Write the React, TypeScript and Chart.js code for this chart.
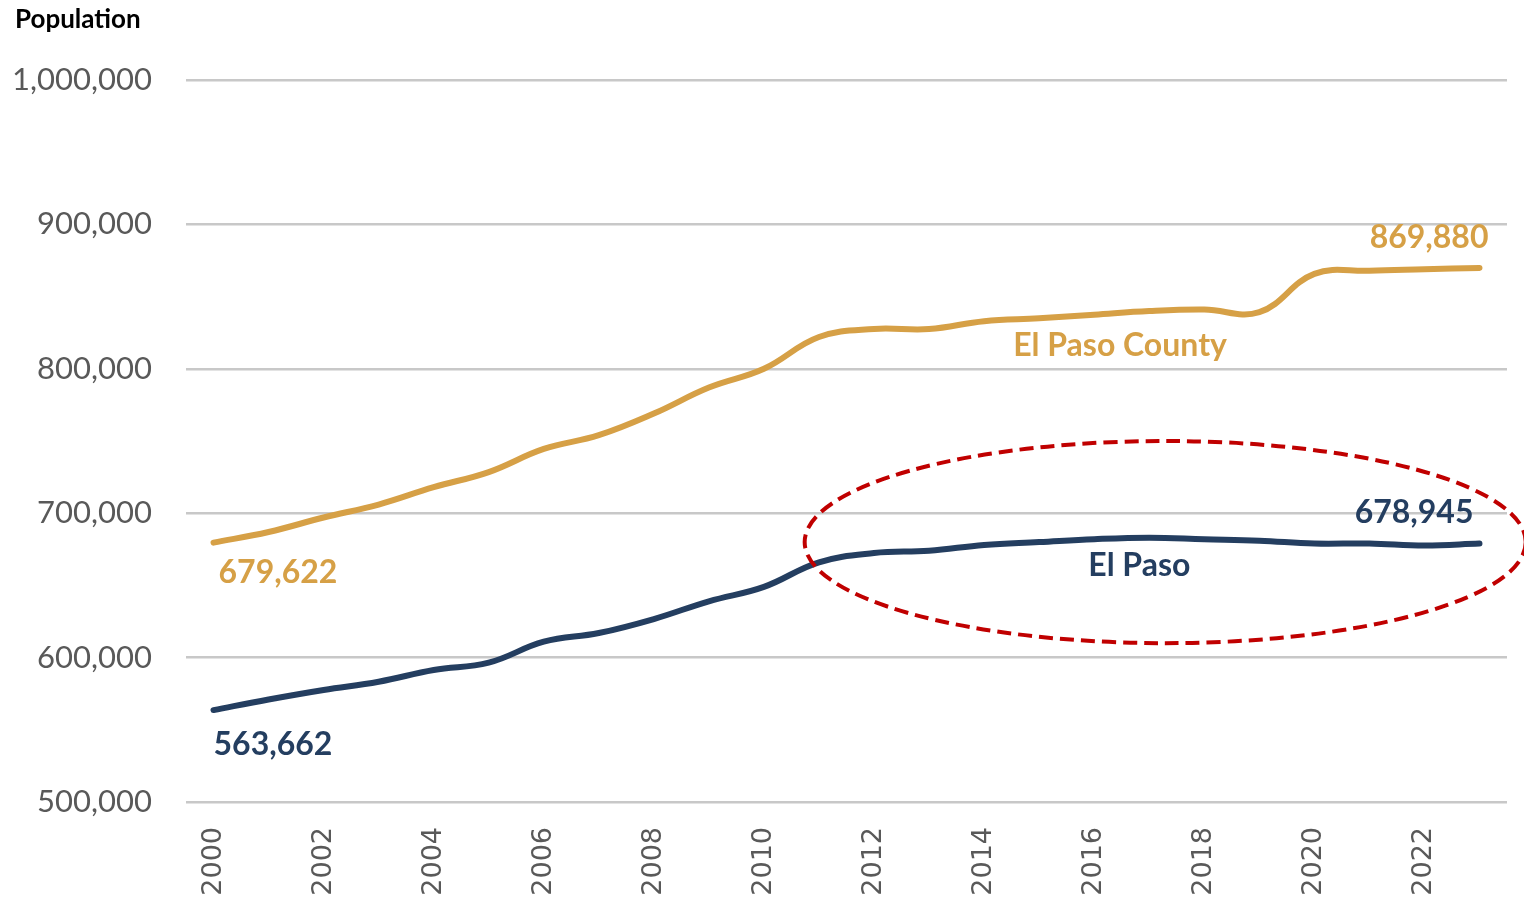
import React, { useEffect, useRef } from "react";
import { Chart, registerables } from "chart.js";

Chart.register(...registerables);

const years: string[] = [
  "2000", "2001", "2002", "2003", "2004", "2005", "2006", "2007", "2008", "2009", "2010", "2011",
  "2012", "2013", "2014", "2015", "2016", "2017", "2018", "2019", "2020", "2021", "2022", "2023",
];

const countyValues: number[] = [
  679622, 687000, 697000, 706000, 718000, 728500, 744500, 754000, 769000, 787000, 800000, 822000,
  827600, 827500, 833000, 835000, 837500, 840000, 841000, 839200, 865700, 867900, 868900, 869880,
];

const cityValues: number[] = [
  563662, 571000, 577600, 583300, 591400, 596500, 611000, 617000, 626700, 639000, 649000, 666000,
  672400, 674000, 678000, 680000, 682000, 683000, 682000, 681000, 679000, 679000, 677600, 678945,
];

const yTicks: number[] = [500000, 600000, 700000, 800000, 900000, 1000000];

const seriesNames: string[] = ["El Paso County", "El Paso"];
const axisTitle = "Population";

const GOLD = "#D6A046";
const NAVY = "#243E60";
const RED = "#C00000";
const FONT = "Lato, 'Open Sans', sans-serif";

const fmt = (v: number) => v.toLocaleString("en-US");

const annotationPlugin = {
  id: "annotations",
  afterDatasetsDraw(chart: any) {
    const { ctx } = chart;
    const xs = chart.scales.x;
    const ys = chart.scales.y;
    const last = years.length - 1;

    ctx.save();
    // axis title
    ctx.fillStyle = "#000000";
    ctx.font = `bold 26px ${FONT}`;
    ctx.textAlign = "left";
    ctx.textBaseline = "middle";
    ctx.fillText(axisTitle, 15, 20);

    ctx.font = `bold 32px ${FONT}`;
    // start / end data labels
    ctx.fillStyle = GOLD;
    ctx.textAlign = "left";
    ctx.fillText(fmt(countyValues[0]), xs.getPixelForValue(0) + 5, ys.getPixelForValue(countyValues[0]) + 30);
    ctx.textAlign = "right";
    ctx.fillText(fmt(countyValues[last]), xs.getPixelForValue(last) + 9, ys.getPixelForValue(countyValues[last]) - 30);

    ctx.fillStyle = NAVY;
    ctx.textAlign = "left";
    ctx.fillText(fmt(cityValues[0]), xs.getPixelForValue(0), ys.getPixelForValue(cityValues[0]) + 35);
    ctx.textAlign = "right";
    ctx.fillText(fmt(cityValues[last]), xs.getPixelForValue(last) - 6, ys.getPixelForValue(cityValues[last]) - 31);

    // series names
    ctx.textAlign = "center";
    ctx.fillStyle = GOLD;
    ctx.fillText(seriesNames[0], xs.getPixelForValue(16.47), ys.getPixelForValue(815800));
    ctx.fillStyle = NAVY;
    ctx.fillText(seriesNames[1], xs.getPixelForValue(16.82), ys.getPixelForValue(663400));

    // dashed ellipse annotation
    const cx = xs.getPixelForValue(17.29);
    const cy = ys.getPixelForValue(680000);
    const rx = xs.getPixelForValue(17.29 + 6.55) - cx;
    const ry = ys.getPixelForValue(680000) - ys.getPixelForValue(750000);
    ctx.beginPath();
    ctx.ellipse(cx, cy, rx, ry, 0, 0, Math.PI * 2);
    ctx.strokeStyle = RED;
    ctx.lineWidth = 4;
    ctx.setLineDash([14, 7]);
    ctx.stroke();
    ctx.restore();
  },
};

export default function App() {
  const canvasRef = useRef<HTMLCanvasElement | null>(null);

  useEffect(() => {
    if (!canvasRef.current) return;
    const chart = new Chart(canvasRef.current, {
      type: "line",
      data: {
        labels: years,
        datasets: [
          {
            label: seriesNames[0],
            data: countyValues,
            borderColor: GOLD,
            backgroundColor: GOLD,
            borderWidth: 6,
            pointRadius: 0,
            tension: 0.4,
            borderCapStyle: "round",
          },
          {
            label: seriesNames[1],
            data: cityValues,
            borderColor: NAVY,
            backgroundColor: NAVY,
            borderWidth: 6,
            pointRadius: 0,
            tension: 0.4,
            borderCapStyle: "round",
          },
        ],
      },
      options: {
        animation: false,
        responsive: false,
        maintainAspectRatio: false,
        layout: { padding: { top: 80, right: 17, left: 0, bottom: 0 } },
        plugins: {
          legend: { display: false },
          tooltip: { enabled: false },
          title: { display: false },
        },
        scales: {
          x: {
            type: "category",
            offset: true,
            grid: { display: false, drawTicks: false },
            border: { display: false },
            afterFit: (scale: any) => {
              scale.height = 95;
              scale.paddingLeft = 0;
              scale.paddingRight = 0;
            },
            ticks: {
              autoSkip: false,
              maxRotation: 90,
              minRotation: 90,
              padding: 25,
              color: "#595959",
              font: { family: "'DejaVu Sans', sans-serif", size: 27 },
              callback: (_v: any, i: number) => (i % 2 === 0 ? years[i] : ""),
            },
          },
          y: {
            min: yTicks[0],
            max: yTicks[yTicks.length - 1],
            afterBuildTicks: (scale: any) => {
              scale.ticks = yTicks.map((v) => ({ value: v }));
            },
            afterFit: (scale: any) => {
              scale.width = 186;
            },
            grid: { color: "#C8C8C8", lineWidth: 2.5, drawTicks: false },
            border: { display: false },
            ticks: {
              padding: 34,
              color: "#595959",
              font: { family: FONT, size: 31 },
              callback: (v: any) => fmt(Number(v)),
            },
          },
        },
      },
      plugins: [annotationPlugin],
    });
    return () => chart.destroy();
  }, []);

  return (
    <div style={{ position: "absolute", left: 0, top: 0, width: 1524, height: 897, background: "#fff" }}>
      <canvas ref={canvasRef} width={1524} height={897} style={{ display: "block" }} />
    </div>
  );
}
